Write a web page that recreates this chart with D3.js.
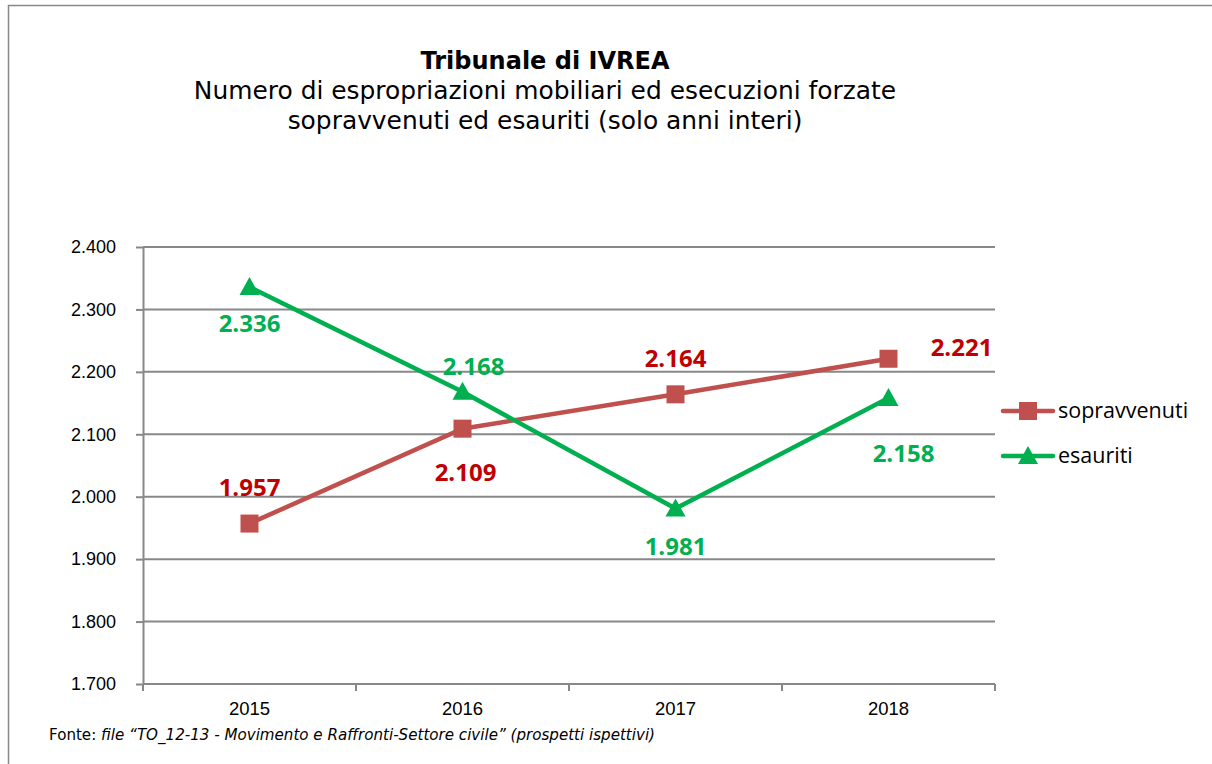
<!DOCTYPE html>
<html>
<head>
<meta charset="utf-8">
<script src="https://cdn.jsdelivr.net/npm/d3@7"></script>
<style>
body { margin: 0; background: #fff; }
svg { display: block; }
</style>
</head>
<body>
<svg id="chart" width="1212" height="764"></svg>
<script>
var years = ["2015", "2016", "2017", "2018"];
var sopravvenuti = [1957, 2109, 2164, 2221];
var esauriti = [2336, 2168, 1981, 2158];
var yTicks = [1700, 1800, 1900, 2000, 2100, 2200, 2300, 2400];

// label offsets [dx, dy] from each point (baseline)
var offSopr = [[0, -28], [3, 52], [0, -27], [73, -3]];
var offEsau = [[0, 45], [11, -17], [0, 46], [15, 64]];

var svg = d3.select("#chart");
var margin = {left: 143, right: 217, top: 247, bottom: 80};
var width = 1212, height = 764;

var fmt = function(v) { return d3.format(",d")(v).replace(/,/g, "."); };

// frame
svg.append("rect")
    .attr("x", 8.5).attr("y", 5.5)
    .attr("width", 1212).attr("height", 770)
    .attr("fill", "none")
    .attr("stroke", "#888")
    .attr("stroke-width", 1.5);

var x = d3.scaleBand()
    .domain(years)
    .range([margin.left, width - margin.right]);

var y = d3.scaleLinear()
    .domain([1700, 2400])
    .range([height - margin.bottom, margin.top]);

// gridlines
svg.append("g")
    .selectAll("line")
    .data(yTicks.slice(1))
    .enter().append("line")
    .attr("x1", margin.left).attr("x2", width - margin.right)
    .attr("y1", function(d) { return y(d); })
    .attr("y2", function(d) { return y(d); })
    .attr("stroke", "#888").attr("stroke-width", 2);

// y axis
var yAxis = svg.append("g")
    .attr("transform", "translate(" + margin.left + ",0)")
    .call(d3.axisLeft(y).tickValues(yTicks).tickSize(7).tickSizeOuter(0).tickFormat(fmt).tickPadding(20));
yAxis.selectAll("line, path").attr("stroke", "#888").attr("stroke-width", 2);
yAxis.selectAll("text")
    .attr("font-family", "Liberation Sans, Arial, sans-serif")
    .attr("font-size", 18).attr("fill", "#000");

// x axis (ticks on band boundaries)
var xAxisG = svg.append("g")
    .attr("transform", "translate(0," + y(1700) + ")");
xAxisG.append("line")
    .attr("x1", margin.left).attr("x2", width - margin.right)
    .attr("stroke", "#888").attr("stroke-width", 2);
var bounds = years.map(function(d) { return x(d); }).concat([x.range()[1]]);
xAxisG.selectAll(".tk")
    .data(bounds)
    .enter().append("line")
    .attr("x1", function(d) { return d; }).attr("x2", function(d) { return d; })
    .attr("y1", 0).attr("y2", 7)
    .attr("stroke", "#888").attr("stroke-width", 2);
xAxisG.selectAll("text")
    .data(years)
    .enter().append("text")
    .attr("x", function(d) { return x(d) + x.bandwidth() / 2; })
    .attr("y", 31)
    .attr("text-anchor", "middle")
    .attr("font-family", "Liberation Sans, Arial, sans-serif")
    .attr("font-size", 18.5)
    .text(function(d) { return d; });

var cx = function(d, i) { return x(years[i]) + x.bandwidth() / 2; };

var series = [
    {name: "sopravvenuti", values: sopravvenuti, line: "#C0504D", label: "#C00000", marker: "square", off: offSopr},
    {name: "esauriti", values: esauriti, line: "#00B050", label: "#00B050", marker: "triangle", off: offEsau}
];

var line = d3.line()
    .x(cx)
    .y(function(d) { return y(d); });

function drawMarker(g, type, color) {
    if (type === "square") {
        g.append("rect")
            .attr("x", -9).attr("y", -9).attr("width", 18).attr("height", 18)
            .attr("fill", color);
    } else {
        g.append("path")
            .attr("d", "M0,-10 L10,8 L-10,8 Z")
            .attr("fill", color);
    }
}

series.forEach(function(s) {
    svg.append("path")
        .datum(s.values)
        .attr("d", line)
        .attr("fill", "none")
        .attr("stroke", s.line)
        .attr("stroke-width", 4.5);

    s.values.forEach(function(v, i) {
        var g = svg.append("g")
            .attr("transform", "translate(" + cx(v, i) + "," + y(v) + ")");
        drawMarker(g, s.marker, s.line);
    });

    svg.append("g").selectAll("text")
        .data(s.values)
        .enter().append("text")
        .attr("x", function(d, i) { return cx(d, i) + s.off[i][0]; })
        .attr("y", function(d, i) { return y(d) + s.off[i][1]; })
        .attr("text-anchor", "middle")
        .attr("font-family", "Open Sans, Lato, sans-serif")
        .attr("font-weight", "bold")
        .attr("font-size", 24)
        .attr("fill", s.label)
        .text(fmt);
});

// legend
var legend = svg.append("g").attr("transform", "translate(1003,411)");
series.forEach(function(s, i) {
    var g = legend.append("g").attr("transform", "translate(0," + (i * 45) + ")");
    g.append("line")
        .attr("x1", 0).attr("x2", 50)
        .attr("stroke", s.line).attr("stroke-width", 4.5)
        .attr("stroke-linecap", "round");
    var m = g.append("g").attr("transform", "translate(25,0)");
    drawMarker(m, s.marker, s.line);
    g.append("text")
        .attr("x", 55).attr("y", 7)
        .attr("font-family", "Open Sans, Lato, sans-serif")
        .attr("font-size", 21.5)
        .text(s.name);
});

// titles
var titleFont = "DejaVu Sans, Verdana, sans-serif";
svg.append("text")
    .attr("x", 545).attr("y", 69)
    .attr("text-anchor", "middle")
    .attr("font-family", titleFont).attr("font-weight", "bold").attr("font-size", 24)
    .text("Tribunale di IVREA");
svg.append("text")
    .attr("x", 545).attr("y", 99)
    .attr("text-anchor", "middle")
    .attr("font-family", titleFont).attr("font-size", 24.9)
    .text("Numero di espropriazioni mobiliari ed esecuzioni forzate");
svg.append("text")
    .attr("x", 545).attr("y", 129)
    .attr("text-anchor", "middle")
    .attr("font-family", titleFont).attr("font-size", 24.9)
    .text("sopravvenuti ed esauriti (solo anni interi)");

// footer
var foot = svg.append("text")
    .attr("x", 49).attr("y", 740)
    .attr("font-family", titleFont).attr("font-size", 15.1);
foot.append("tspan").text("Fonte: ");
foot.append("tspan").attr("font-style", "italic")
    .text("file \u201CTO_12-13 - Movimento e Raffronti-Settore civile\u201D (prospetti ispettivi)");
</script>
</body>
</html>
